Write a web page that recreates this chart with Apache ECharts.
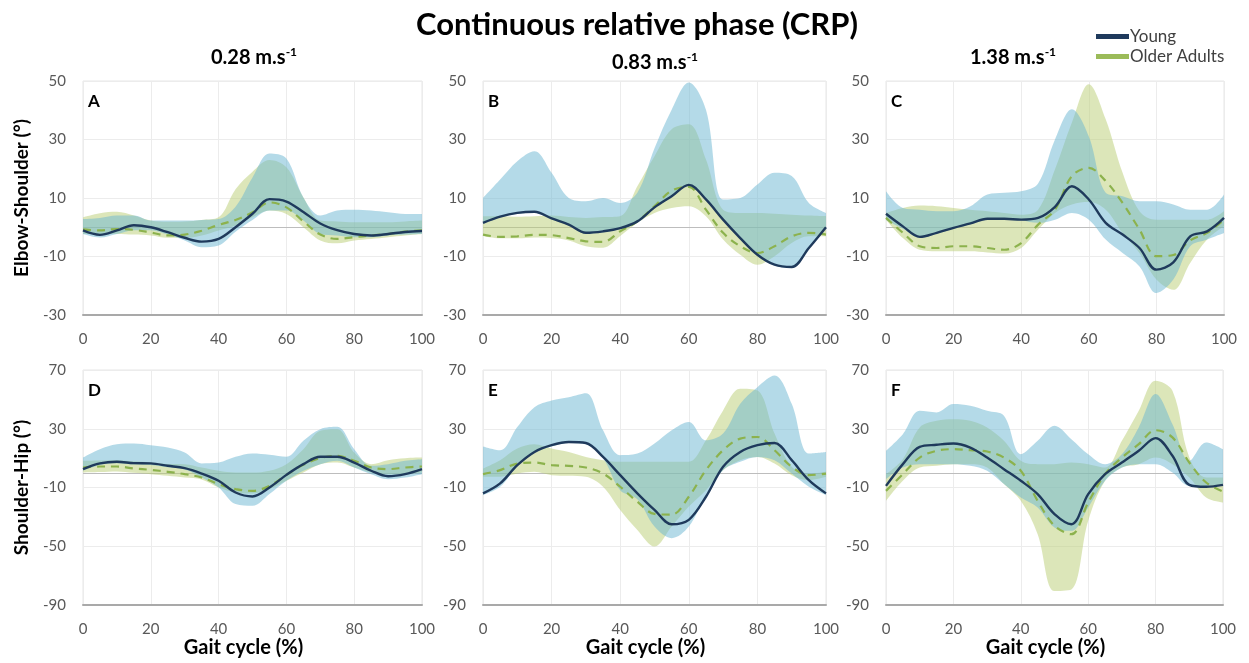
<!DOCTYPE html>
<html><head><meta charset="utf-8">
<script src="https://cdn.jsdelivr.net/npm/echarts@6/dist/echarts.min.js"></script>
<style>html,body{margin:0;padding:0;background:#fff}#c{width:1249px;height:663px}</style>
</head><body><div id="c"></div>
<script>
const gait = [0,5,10,15,20,25,30,35,40,45,50,55,60,65,70,75,80,85,90,95,100];

// Panel A (Elbow-Shoulder, 0.28 m/s)
const youngA   = [-1.1,-2.6,-1.1,0.7,0,-1.7,-3.6,-4.9,-4.0,0,4.6,9.6,8.8,5.2,1.3,-1.0,-2.3,-2.8,-2.3,-1.6,-1.3];
const olderA   = [-0.7,-1.1,-0.6,-0.9,-1.8,-2.8,-2.5,-1.2,0.8,2.5,5.1,8.5,6.8,2.0,-2.5,-4.0,-3.4,-2.8,-2.3,-1.5,-1.1];
const youngHiA = [2.8,3.2,4.0,4.0,2.3,2.3,2.3,2.5,2.8,7.0,17.0,25.2,23.5,10.2,4.0,5.7,6.0,5.7,5.1,4.5,4.5];
const youngLoA = [-2.3,-3.5,-2.3,-1.0,-1.0,-2.5,-4.5,-6.8,-6.2,-1.5,2.5,5.7,5.7,2.3,-2.3,-2.8,-3.4,-3.4,-2.8,-2.5,-2.3];
const olderHiA = [3.4,4.8,5.3,4.0,2.3,1.9,2.0,2.5,3.4,13.0,19.0,23.0,20.5,10.2,2.3,2.0,1.7,1.7,1.7,2.0,2.3];
const olderLoA = [-2.3,-2.3,-2.3,-2.5,-2.8,-3.6,-3.6,-2.8,-1.1,0.6,3.4,5.7,4.5,0,-4.5,-5.5,-4.5,-4.0,-3.4,-2.8,-2.3];

// Panel B (Elbow-Shoulder, 0.83 m/s)
const youngB   = [1.5,3.6,4.9,5.3,3.0,0.9,-1.9,-1.4,-0.3,2.0,6.8,10.6,14.5,9.5,2.6,-3.7,-9.4,-12.8,-13.6,-7.1,0];
const olderB   = [-2.5,-3.3,-3.1,-2.6,-2.7,-3.7,-4.8,-5.0,-1.4,2.0,7.2,12.5,13.8,6.0,-1.9,-6.5,-8.8,-6.5,-3.1,-1.9,-2.5];
const youngHiB = [10,16.3,22.6,26,18.6,10,8.9,10,8.3,11.8,27,40.2,49.5,40.2,9.5,10,14.6,18.6,17.5,8.3,4.9];
const youngLoB = [1.2,3.3,4.6,5.0,2.7,0.6,-2.2,-1.7,-0.6,1.5,6.5,10.3,14.2,9.2,2.3,-4.0,-9.7,-13.1,-13.9,-7.4,-0.3];
const olderHiB = [3.8,3.8,3.6,3.8,4.0,3.5,3.2,3.5,3.8,14,24.3,33.5,35.2,23.2,6.0,4.9,4.9,4.6,4.3,4.0,3.8];
const olderLoB = [-3.0,-3.8,-3.8,-3.5,-3.7,-4.5,-6.5,-7.0,-3.0,1.5,4.9,6.6,7.2,3.8,-4.2,-9.4,-12.8,-9.9,-5.4,-3.1,-3.1];

// Panel C (Elbow-Shoulder, 1.38 m/s)
const youngC   = [4.6,0.3,-3.3,-1.9,-0.2,1.3,2.9,2.9,2.6,3.2,7.0,14.0,9.5,1.5,-2.5,-7.1,-14.5,-12.0,-3.1,-1.4,3.2];
const olderC   = [3.2,-1.9,-6.5,-7.1,-6.5,-6.5,-7.1,-7.7,-5.4,0.9,6.0,17.5,20.3,15.8,8.3,-0.8,-9.9,-9.5,-4.5,-1.9,2.6];
const youngHiC = [12.3,6.6,6.0,5.5,5.5,7.2,11.2,11.8,12.3,15,30,40.3,31,11.8,10.6,8.9,8.9,7.8,6.0,6.0,11.2];
const youngLoC = [2.5,-0.5,-3.6,-2.2,-0.5,1.0,2.6,2.6,2.3,1.5,2.6,4.9,2.6,-4.2,-8.8,-13.4,-22.5,-17.9,-6.5,-4.2,-2.0];
const olderHiC = [4.9,6.6,7.4,7.2,6.6,6.0,5.5,4.9,4.3,6.0,19.8,35.8,48.9,36.9,18.6,5.5,2.6,2.6,2.6,2.6,5.5];
const olderLoC = [2.6,-3.7,-7.7,-8.2,-8.2,-8.2,-8.6,-9.0,-7.1,-0.8,4.9,7.8,8.6,6.0,-2.0,-8.8,-17.9,-21.4,-12.2,-4.2,0.3];

// Panel D (Shoulder-Hip, 0.28 m/s)
const youngD   = [2.5,6.4,7.5,6.6,6.4,4.8,3.2,-0.5,-5.4,-13.4,-16.1,-10,-1.4,5.9,10.9,10.9,7.0,1.4,-2.3,-0.9,2.5];
const olderD   = [3.6,4.3,4.3,3.0,2.0,0.7,-0.9,-3.2,-7.7,-11.1,-12.3,-8.9,-1.4,5.4,10.0,11.6,8.2,3.6,2.5,3.6,4.3];
const youngHiD = [10.4,16.1,19.5,20,18.8,17.2,13.8,6.4,7.0,10.9,13.2,12.3,10.9,21.8,29.7,31.3,16.1,4.8,5.9,8.2,9.3];
const youngLoD = [1.5,5.4,6.5,5.6,5.4,3.8,2.2,-3.2,-10,-21.3,-22.5,-14.5,-5.4,1.4,5.9,8.2,3.6,-0.9,-4.3,-3.2,-0.9];
const olderHiD = [8.2,8.4,8.6,7.8,7.0,6.0,5.9,3.6,1.4,0.2,0.2,1.4,5.9,16.1,28.6,29.7,13.8,5.9,8.6,10.0,10.4];
const olderLoD = [0.2,0.5,0.9,0,-0.9,-2.0,-3.2,-4.5,-10,-13.4,-14.1,-11.1,-5.4,0.2,5.9,7.0,3.6,0.2,-0.9,-0.9,0.2];

// Panel E (Shoulder-Hip, 0.83 m/s)
const youngE   = [-14,-7.2,5.2,14.2,18.8,21,20.3,10.8,-1.6,-14,-25.3,-35,-32,-16.3,4.1,14.2,18.8,20.3,8.6,-5,-14];
const olderE   = [-0.9,1.8,6.3,7.0,5.2,4.7,3.6,-0.5,-9.5,-19.7,-28,-28.5,-16.3,1.8,15.4,23.3,24.4,15.4,4.1,-1.6,-0.5];
const youngHiE = [18,15.4,31.2,44.7,49.3,51.5,54.2,28.9,12,13.1,19.9,28.9,34.6,22.1,26.7,47,58.3,66.2,47,13.1,14.2];
const youngLoE = [-15.1,-9.5,4.5,13.5,18,20.3,19.5,10,-11.8,-18,-36.6,-44.5,-36.6,-15.1,1.8,7.5,10.8,8.6,-0.5,-9.5,-15.1];
const olderHiE = [2.9,8.6,16.5,19.4,16.5,14.2,10.8,8.6,7.5,7.5,7.5,7.5,7.5,22.1,42.5,57.2,56,26.7,4.1,-0.5,0.7];
const olderLoE = [-2.7,-2.7,-0.5,0.7,-1.6,-2.0,-2.7,-9.5,-25.3,-38.9,-50.2,-36.6,-23,-11.8,1.8,8.6,10.8,6.3,-1.6,-5,-2.7];

// Panel F (Shoulder-Hip, 1.38 m/s)
const youngF   = [-8.9,5.9,17.7,19.1,20,17.2,10.4,2.5,-5.4,-14.5,-28.1,-35,-14.5,-0.9,7,15,23.6,11.6,-8.2,-9.5,-8.2];
const olderF   = [-12.3,-0.9,10.4,15,16.1,15.4,14.5,10.4,1.4,-19.1,-36.1,-41.8,-20.2,-0.9,10.4,19.5,29,24.1,7,-6.6,-12.7];
const youngHiF = [15,26.3,42.2,41.1,46.8,45.6,42.2,38.8,12.7,21.8,32,22.9,12.7,5.9,12.7,30.9,53.6,33.1,8.2,20.7,16.1];
const youngLoF = [-4.3,3.6,5.9,5.9,5.9,4.8,1.4,-7.7,-16.8,-23.6,-37.2,-39.5,-23.6,-5.4,3.6,5.9,5.9,0.2,-8.9,-8.9,-7.7];
const olderHiF = [-0.9,9.3,30.9,35.4,36.5,35.4,30.9,21.8,8.2,5.9,5.9,7,5.9,3.6,21.8,42.2,62.6,55.8,10.4,-3.2,-3.2];
const olderLoF = [-19.1,-5.4,3.6,4.8,5.9,5.9,3.6,-7.7,-19.1,-41.8,-80.5,-79.5,-32.7,-5.4,3.6,5.9,10.4,5.9,-3.2,-16.8,-20.2];

const topTicks = [-30,-10,10,30,50];
const botTicks = [-90,-50,-10,30,70];
const speeds = ['0.28','0.83','1.38'];
const letters = ['A','B','C','D','E','F'];

const panels = [
  {y:youngA,o:olderA,yh:youngHiA,yl:youngLoA,oh:olderHiA,ol:olderLoA},
  {y:youngB,o:olderB,yh:youngHiB,yl:youngLoB,oh:olderHiB,ol:olderLoB},
  {y:youngC,o:olderC,yh:youngHiC,yl:youngLoC,oh:olderHiC,ol:olderLoC},
  {y:youngD,o:olderD,yh:youngHiD,yl:youngLoD,oh:olderHiD,ol:olderLoD},
  {y:youngE,o:olderE,yh:youngHiE,yl:youngLoE,oh:olderHiE,ol:olderLoE},
  {y:youngF,o:olderF,yh:youngHiF,yl:youngLoF,oh:olderHiF,ol:olderLoF}
];

const FONT = 'Lato';
const NAVY = '#1f3a5c';
const OLIVE = '#8cb24d';
const BLUE_BAND = 'rgba(105,181,209,0.5)';
const GREEN_BAND = 'rgba(185,205,115,0.5)';

const grids = [
  {left:83, top:81, width:339, height:234},
  {left:483, top:81, width:343, height:234},
  {left:886, top:81, width:338, height:234},
  {left:83, top:370, width:339, height:235},
  {left:483, top:370, width:343, height:235},
  {left:886, top:370, width:337, height:235}
];

const xAxes = grids.map((g,i)=>({
  type:'category', gridIndex:i, data:gait.map(String), boundaryGap:false,
  axisLine:{show:true, onZero:false, lineStyle:{color:'#a9a9a9', width:2}},
  axisTick:{show:false},
  splitLine:{show:true, interval:3, lineStyle:{color:'#ececec', width:1}},
  axisLabel:{interval:3, margin:17, fontSize:15, color:'#595959', fontFamily:FONT},
  name: i>=3 ? 'Gait cycle (%)' : '',
  nameLocation:'middle', nameGap:33,
  nameTextStyle:{fontSize:20, fontWeight:'bold', color:'#000', fontFamily:FONT, padding:[0,18,0,0]}
}));

const yAxes = grids.map((g,i)=>{
  const top = i<3;
  const ticks = top ? topTicks : botTicks;
  return {
    type:'value', gridIndex:i,
    min: ticks[0], max: ticks[ticks.length-1], interval:10,
    axisLine:{show:false}, axisTick:{show:false}, splitLine:{show:false},
    axisLabel:{margin:17, fontSize:15, color:'#595959', fontFamily:FONT,
      formatter: v => ticks.indexOf(v) >= 0 ? String(v) : ''},
    name: i===0 ? 'Elbow-Shoulder (°)' : (i===3 ? 'Shoulder-Hip (°)' : ''),
    nameLocation:'middle', nameGap:52,
    nameTextStyle:{fontSize:19, fontWeight:'bold', color:'#000', fontFamily:FONT}
  };
});

const SMOOTH = 0.35;
const series = [];
panels.forEach((p,i)=>{
  const ticks = i<3 ? topTicks : botTicks;
  const diffs = (hi,lo) => hi.map((h,k)=> +(h - lo[k]).toFixed(2));
  series.push({
    type:'line', xAxisIndex:i, yAxisIndex:i, data:[], silent:true,
    markLine:{silent:true, symbol:'none', z:1, label:{show:false},
      data:[
        ...ticks.slice(1).map(t=>({yAxis:t, lineStyle:{color:'#ececec', width:1, type:'solid'}})),
        {yAxis:0, lineStyle:{color:'#bdbdbd', width:1.2, type:'solid'}}
      ]}
  });
  series.push({type:'line', name:'oLo'+i, xAxisIndex:i, yAxisIndex:i, stack:'o'+i, stackStrategy:'all',
    data:p.ol, symbol:'none', smooth:SMOOTH, lineStyle:{opacity:0}, silent:true, z:2});
  series.push({type:'line', name:'oBand'+i, xAxisIndex:i, yAxisIndex:i, stack:'o'+i, stackStrategy:'all',
    data:diffs(p.oh,p.ol), symbol:'none', smooth:SMOOTH, lineStyle:{opacity:0},
    areaStyle:{color:GREEN_BAND, opacity:1}, silent:true, z:2});
  series.push({type:'line', name:'yLo'+i, xAxisIndex:i, yAxisIndex:i, stack:'y'+i, stackStrategy:'all',
    data:p.yl, symbol:'none', smooth:SMOOTH, lineStyle:{opacity:0}, silent:true, z:3});
  series.push({type:'line', name:'yBand'+i, xAxisIndex:i, yAxisIndex:i, stack:'y'+i, stackStrategy:'all',
    data:diffs(p.yh,p.yl), symbol:'none', smooth:SMOOTH, lineStyle:{opacity:0},
    areaStyle:{color:BLUE_BAND, opacity:1}, silent:true, z:3});
  series.push({type:'line', name:'Older Adults', xAxisIndex:i, yAxisIndex:i, data:p.o,
    symbol:'none', smooth:SMOOTH, itemStyle:{color:OLIVE},
    lineStyle:{color:OLIVE, width:2.2, type:[8,6]}, z:5});
  series.push({type:'line', name:'Young', xAxisIndex:i, yAxisIndex:i, data:p.y,
    symbol:'none', smooth:SMOOTH, itemStyle:{color:NAVY},
    lineStyle:{color:NAVY, width:2.4}, z:6});
});

const graphic = [
  {type:'text', x:637, y:25, style:{text:'Continuous relative phase (CRP)', font:'bold 31px '+FONT,
    fill:'#000', align:'center', verticalAlign:'middle'}}
];
const subPos = [[254,57],[655,62],[1013,57]];
speeds.forEach((s,k)=>{
  graphic.push({type:'text', x:subPos[k][0], y:subPos[k][1], style:{
    text:'{m|'+s+' m.s}{s|-1}', align:'center', verticalAlign:'middle',
    rich:{m:{font:'bold 20px '+FONT, fill:'#000', lineHeight:22, verticalAlign:'bottom'},
          s:{font:'bold 12px '+FONT, fill:'#000', lineHeight:22, verticalAlign:'top'}}
  }});
});
grids.forEach((g,i)=>{
  graphic.push({type:'text', x:g.left+5, y:g.top+12, style:{text:letters[i], font:'bold 17px '+FONT,
    fill:'#000', align:'left', verticalAlign:'top'}});
});

const chart = echarts.init(document.getElementById('c'), null, {renderer:'canvas'});
chart.setOption({
  animation:false,
  backgroundColor:'#fff',
  grid: grids.map(g=>Object.assign({show:true, borderColor:'#e6e6e6', borderWidth:1, backgroundColor:'transparent'}, g)),
  xAxis: xAxes,
  yAxis: yAxes,
  legend:{
    orient:'vertical', left:1091, top:23, itemWidth:33, itemHeight:5, itemGap:3,
    textStyle:{fontSize:17, color:'#404040', fontFamily:FONT, padding:[0,0,0,-4]},
    data:[{name:'Young', icon:'rect', itemStyle:{color:NAVY}},
          {name:'Older Adults', icon:'rect', itemStyle:{color:'#9bbb59'}}],
    selectedMode:false
  },
  graphic: graphic,
  series: series
});
</script></body></html>
